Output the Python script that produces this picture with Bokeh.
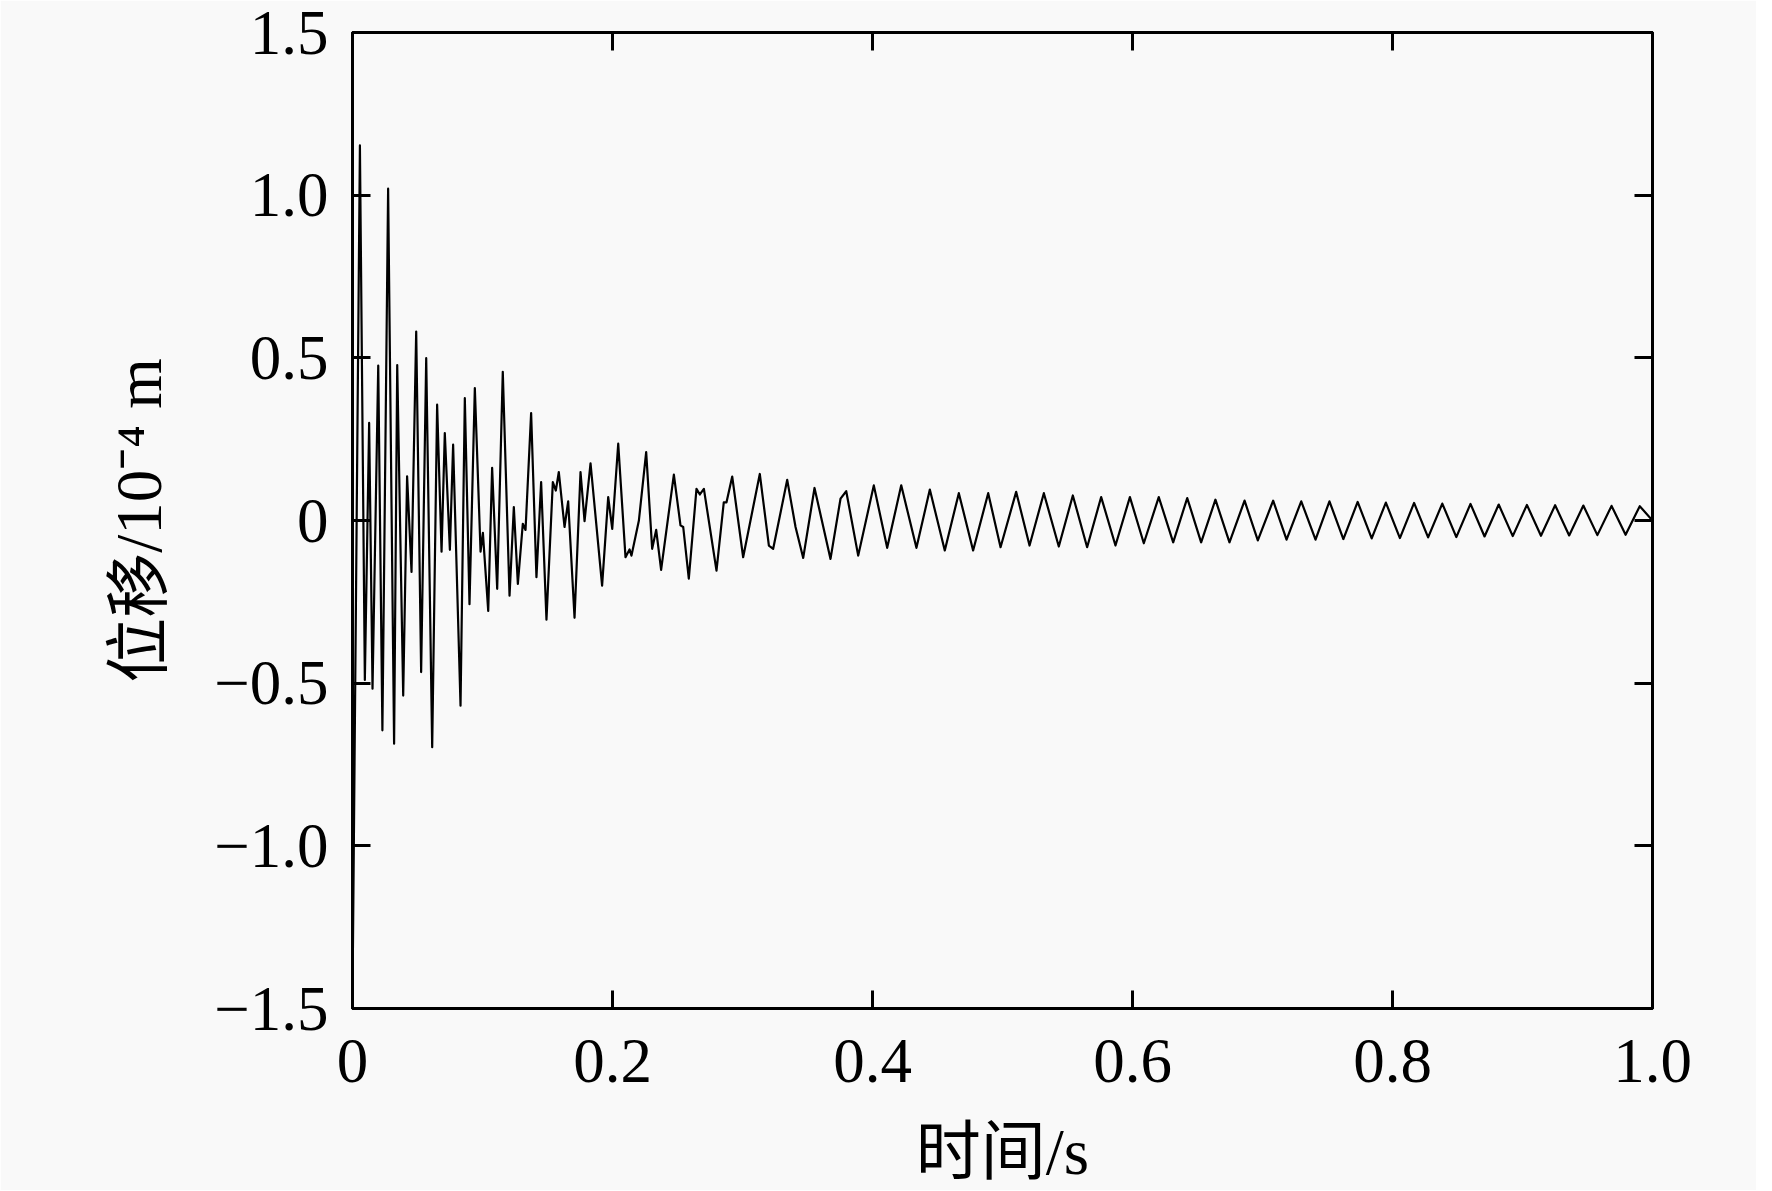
from bokeh.plotting import figure
from bokeh.models import LinearAxis, FixedTicker, CustomJSTickFormatter, Range1d
from bokeh.embed import file_html
from bokeh.resources import INLINE

# time (s) and displacement (1e-4 m)
time_s = [
    0.0000, 0.0057, 0.0095, 0.0128, 0.0154, 0.0198, 0.0230, 0.0274, 0.0320, 0.0344,
    0.0390, 0.0420, 0.0454, 0.0490, 0.0528, 0.0567, 0.0613, 0.0651, 0.0685, 0.0710,
    0.0749, 0.0774, 0.0831, 0.0864, 0.0900, 0.0941, 0.0985, 0.1003, 0.1044, 0.1074,
    0.1113, 0.1156, 0.1208, 0.1241, 0.1272, 0.1310, 0.1331, 0.1374, 0.1415, 0.1451,
    0.1492, 0.1541, 0.1564, 0.1587, 0.1631, 0.1659, 0.1708, 0.1754, 0.1785, 0.1831,
    0.1920, 0.1967, 0.1998, 0.2044, 0.2100, 0.2131, 0.2146, 0.2203, 0.2259, 0.2305,
    0.2336, 0.2374, 0.2472, 0.2523, 0.2544, 0.2587, 0.2646, 0.2672, 0.2703, 0.2800,
    0.2856, 0.2877, 0.2921, 0.3005, 0.3133, 0.3203, 0.3236, 0.3344, 0.3408, 0.3467,
    0.3554, 0.3677, 0.3754, 0.3798, 0.3890, 0.4010, 0.4113, 0.4221, 0.4338, 0.4441,
    0.4556, 0.4664, 0.4774, 0.4890, 0.4985, 0.5105, 0.5208, 0.5318, 0.5433, 0.5541,
    0.5651, 0.5759, 0.5869, 0.5980, 0.6087, 0.6202, 0.6313, 0.6421, 0.6528, 0.6638,
    0.6746, 0.6862, 0.6964, 0.7082, 0.7185, 0.7298, 0.7408, 0.7515, 0.7622, 0.7732,
    0.7840, 0.7949, 0.8057, 0.8166, 0.8274, 0.8383, 0.8491, 0.8600, 0.8708, 0.8817,
    0.8925, 0.9034, 0.9142, 0.9251, 0.9359, 0.9468, 0.9576, 0.9685, 0.9793, 0.9902,
    1.0000,
]
displacement = [
    -1.470, 1.153, -0.490, 0.300, -0.517, 0.476, -0.645, 1.020, -0.686, 0.478,
    -0.538, 0.136, -0.158, 0.581, -0.466, 0.499, -0.697, 0.356, -0.096, 0.269,
    -0.090, 0.233, -0.569, 0.376, -0.257, 0.407, -0.096, -0.038, -0.278, 0.162,
    -0.210, 0.457, -0.231, 0.041, -0.195, -0.010, -0.029, 0.330, -0.174, 0.118,
    -0.305, 0.118, 0.092, 0.149, -0.020, 0.059, -0.299, 0.149, -0.002, 0.176,
    -0.200, 0.072, -0.026, 0.236, -0.113, -0.089, -0.108, 0.000, 0.210, -0.087,
    -0.029, -0.152, 0.141, -0.015, -0.020, -0.179, 0.097, 0.080, 0.097, -0.154,
    0.056, 0.056, 0.135, -0.113, 0.143, -0.077, -0.087, 0.125, -0.020, -0.115,
    0.100, -0.118, 0.067, 0.090, -0.108, 0.108, -0.084, 0.108, -0.084, 0.095,
    -0.092, 0.084, -0.092, 0.084, -0.082, 0.088, -0.077, 0.084, -0.080, 0.077,
    -0.082, 0.072, -0.077, 0.072, -0.070, 0.072, -0.067, 0.069, -0.067, 0.064,
    -0.067, 0.061, -0.061, 0.061, -0.059, 0.059, -0.059, 0.059, -0.057, 0.057,
    -0.055, 0.055, -0.054, 0.054, -0.052, 0.052, -0.051, 0.051, -0.049, 0.049,
    -0.048, 0.048, -0.047, 0.047, -0.046, 0.046, -0.045, 0.045, -0.044, 0.044,
    0.000,
]

x_ticks = [0.0, 0.2, 0.4, 0.6, 0.8, 1.0]
y_ticks = [-1.5, -1.0, -0.5, 0.0, 0.5, 1.0, 1.5]
x_title = "时间/s"
y_title = "位移/10⁻⁴ m"

SERIF = "'Liberation Serif', 'Noto Sans CJK SC'"
BG = "#f9f9f9"

p = figure(
    frame_width=1300, frame_height=976,
    min_border_left=352, min_border_right=104, min_border_top=32, min_border_bottom=167,
    x_range=Range1d(0, 1.0), y_range=Range1d(-1.5, 1.5),
    output_backend="svg", toolbar_location=None,
    x_axis_location=None, y_axis_location=None,
)
p.background_fill_color = BG
p.border_fill_color = BG
p.grid.visible = False
p.outline_line_color = "black"
p.outline_line_width = 3

fmt = CustomJSTickFormatter(code="""
if (Math.abs(tick) < 1e-9) { return "0"; }
var s = Math.abs(tick).toFixed(1);
return (tick < 0 ? "\u2212" : "") + s;
""")
blank = CustomJSTickFormatter(code="return '';")

def style(ax, show):
    ax.axis_line_width = 3
    ax.major_tick_line_width = 3
    ax.major_tick_in = 18
    ax.major_tick_out = 0
    ax.minor_tick_line_color = None
    if show:
        ax.formatter = fmt
        ax.major_label_text_font = SERIF
        ax.major_label_text_font_size = "63px"
        ax.major_label_text_color = "black"
        ax.axis_label_text_font = SERIF
        ax.axis_label_text_font_size = "65px"
        ax.axis_label_text_font_style = "normal"
        ax.axis_label_text_color = "black"
    else:
        ax.formatter = blank
        ax.major_label_standoff = 0

xb = LinearAxis(ticker=FixedTicker(ticks=x_ticks), axis_label=x_title)
style(xb, True)
xb.major_label_standoff = 31
xb.axis_label_standoff = 31
p.add_layout(xb, "below")

yl = LinearAxis(ticker=FixedTicker(ticks=y_ticks), axis_label=y_title)
style(yl, True)
yl.major_label_standoff = 24
yl.axis_label_standoff = 36
p.add_layout(yl, "left")

xt = LinearAxis(ticker=FixedTicker(ticks=x_ticks))
style(xt, False)
p.add_layout(xt, "above")

yr = LinearAxis(ticker=FixedTicker(ticks=y_ticks))
style(yr, False)
p.add_layout(yr, "right")

p.line(time_s, displacement, line_color="black", line_width=2.2, line_join="round")

open("out.html", "w").write(file_html(p, INLINE))
